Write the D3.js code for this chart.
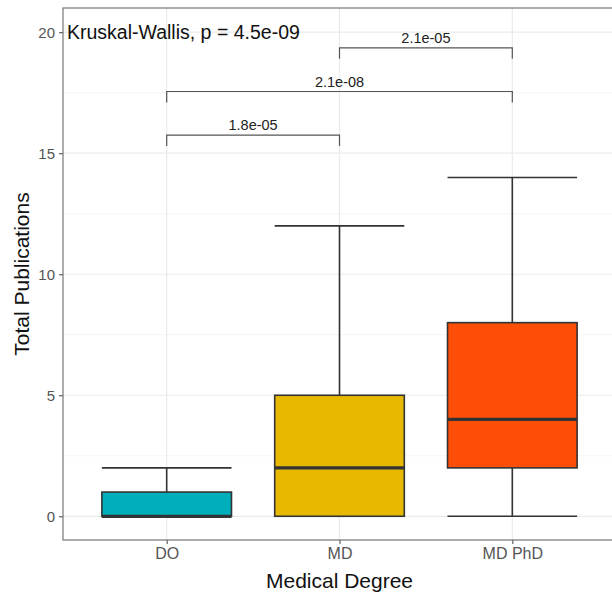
<!DOCTYPE html>
<html lang="en">
<head>
<meta charset="UTF-8">
<title>Total Publications by Medical Degree</title>
<script src="https://d3js.org/d3.v7.min.js"></script>
<style>
  body { margin: 0; background: #fff; }
  svg { font-family: "Liberation Sans", Arial, sans-serif; }
</style>
</head>
<body>
<svg width="612" height="592"></svg>
<script>
// data
const degrees = ["DO", "MD", "MD PhD"];
const whiskerLow = [0, 0, 0];
const q1 = [0, 0, 2];
const medians = [0, 2, 4];
const q3 = [1, 5, 8];
const whiskerHigh = [2, 12, 14];
const colors = ["#00AFBB", "#E7B800", "#FC4E07"];
const yTicks = [0, 5, 10, 15, 20];

// pairwise comparisons
const pairFrom = ["DO", "DO", "MD"];
const pairTo = ["MD", "MD PhD", "MD PhD"];
const pairY = [15.75, 17.55, 19.35];
const pairLabel = ["1.8e-05", "2.1e-08", "2.1e-05"];
const globalTest = "Kruskal-Wallis, p = 4.5e-09";

const boxes = degrees.map((d, i) => ({
  deg: d, lo: whiskerLow[i], q1: q1[i], med: medians[i], q3: q3[i], hi: whiskerHigh[i], color: colors[i]
}));

const margin = { top: 8, right: -4, bottom: 52, left: 63 };
const width = 612 - margin.left - margin.right;
const height = 592 - margin.top - margin.bottom;

const svg = d3.select("svg");
const g = svg.append("g").attr("transform", `translate(${margin.left},${margin.top})`);

const x = d3.scalePoint().domain(degrees).range([0, width]).padding(0.6);
const step = x.step();
const y = d3.scaleLinear().domain([-0.98, 21.0]).range([height, 0]);

// grid
const minor = [2.5, 7.5, 12.5, 17.5];
g.selectAll(".minor").data(minor).enter().append("line")
  .attr("x1", 0).attr("x2", width)
  .attr("y1", d => y(d)).attr("y2", d => y(d))
  .attr("stroke", "#f2f2f2").attr("stroke-width", 0.8);
g.selectAll(".major").data(yTicks).enter().append("line")
  .attr("x1", 0).attr("x2", width)
  .attr("y1", d => y(d)).attr("y2", d => y(d))
  .attr("stroke", "#ebebeb").attr("stroke-width", 1.2);
g.selectAll(".vgrid").data(degrees).enter().append("line")
  .attr("x1", d => x(d)).attr("x2", d => x(d))
  .attr("y1", 0).attr("y2", height)
  .attr("stroke", "#ebebeb").attr("stroke-width", 1.2);

// boxes
const bw = step * 0.75;
const bg = g.selectAll(".box").data(boxes).enter().append("g");
bg.append("line")
  .attr("x1", d => x(d.deg)).attr("x2", d => x(d.deg))
  .attr("y1", d => y(d.hi)).attr("y2", d => y(d.q3))
  .attr("stroke", "#333").attr("stroke-width", 1.6);
bg.append("line")
  .attr("x1", d => x(d.deg)).attr("x2", d => x(d.deg))
  .attr("y1", d => y(d.q1)).attr("y2", d => y(d.lo))
  .attr("stroke", "#333").attr("stroke-width", 1.6);
bg.append("line")
  .attr("x1", d => x(d.deg) - bw / 2).attr("x2", d => x(d.deg) + bw / 2)
  .attr("y1", d => y(d.hi)).attr("y2", d => y(d.hi))
  .attr("stroke", "#333").attr("stroke-width", 1.6);
bg.append("line")
  .attr("x1", d => x(d.deg) - bw / 2).attr("x2", d => x(d.deg) + bw / 2)
  .attr("y1", d => y(d.lo)).attr("y2", d => y(d.lo))
  .attr("stroke", "#333").attr("stroke-width", 1.6);
bg.append("rect")
  .attr("x", d => x(d.deg) - bw / 2).attr("width", bw)
  .attr("y", d => y(d.q3)).attr("height", d => y(d.q1) - y(d.q3))
  .attr("fill", d => d.color).attr("stroke", "#333").attr("stroke-width", 1.6);
bg.append("line")
  .attr("x1", d => x(d.deg) - bw / 2).attr("x2", d => x(d.deg) + bw / 2)
  .attr("y1", d => y(d.med)).attr("y2", d => y(d.med))
  .attr("stroke", "#333").attr("stroke-width", 3.2);

// comparison brackets
const tip = 0.45;
pairLabel.forEach((lab, i) => {
  const x1 = x(pairFrom[i]), x2 = x(pairTo[i]), yy = y(pairY[i]);
  g.append("path")
    .attr("d", `M${x1},${y(pairY[i] - tip)}V${yy}H${x2}V${y(pairY[i] - tip)}`)
    .attr("fill", "none").attr("stroke", "#555").attr("stroke-width", 1.2);
  g.append("text")
    .attr("x", (x1 + x2) / 2).attr("y", yy - 5)
    .attr("text-anchor", "middle")
    .attr("font-size", 14.5).attr("fill", "#222")
    .text(lab);
});

g.append("text")
  .attr("x", 4).attr("y", y(20) + 7)
  .attr("font-size", 19.5).attr("fill", "#111")
  .text(globalTest);

// panel border
g.append("rect").attr("width", width).attr("height", height)
  .attr("fill", "none").attr("stroke", "#777").attr("stroke-width", 1.2);

// axes
const yAxis = g.append("g").call(d3.axisLeft(y).tickValues(yTicks).tickSize(4).tickPadding(4));
yAxis.select(".domain").remove();
yAxis.selectAll("line").attr("stroke", "#555").attr("stroke-width", 1.1);
yAxis.selectAll("text").attr("font-size", 15).attr("fill", "#555")
  .style("font-family", "Liberation Sans, Arial, sans-serif");

const xAxis = g.append("g").attr("transform", `translate(0,${height})`)
  .call(d3.axisBottom(x).tickSize(4).tickPadding(4));
xAxis.select(".domain").remove();
xAxis.selectAll("line").attr("stroke", "#555").attr("stroke-width", 1.1);
xAxis.selectAll("text").attr("font-size", 16).attr("fill", "#555")
  .style("font-family", "Liberation Sans, Arial, sans-serif");

svg.append("text")
  .attr("x", margin.left + x("MD")).attr("y", 588)
  .attr("text-anchor", "middle").attr("font-size", 21).attr("fill", "#111")
  .text("Medical Degree");

svg.append("text")
  .attr("transform", `translate(29,${margin.top + height / 2}) rotate(-90)`)
  .attr("text-anchor", "middle").attr("font-size", 21).attr("fill", "#111")
  .text("Total Publications");
</script>
</body>
</html>
